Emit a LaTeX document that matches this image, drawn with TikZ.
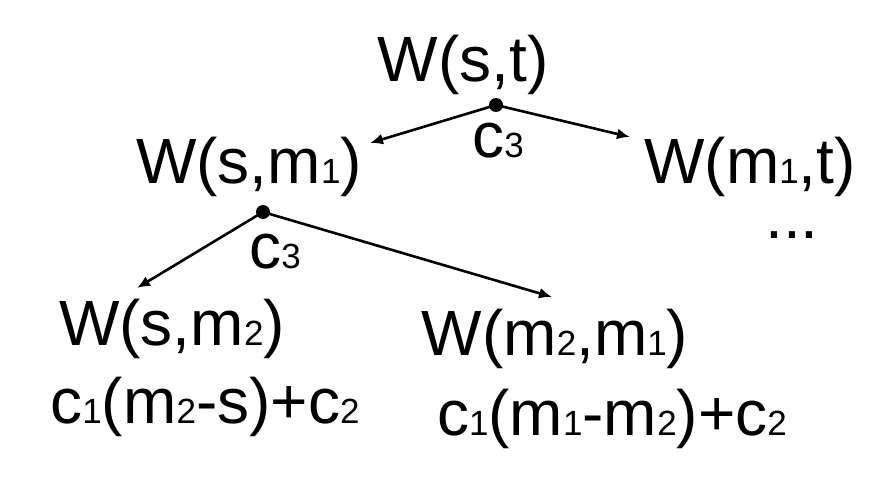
\documentclass[tikz,border=0pt]{standalone}
\usepackage{fontspec}
\setmainfont{Liberation Sans}
\usepackage{tikz}
\usetikzlibrary{arrows.meta}
\newcommand{\lo}[1]{{\fontsize{35}{35}\selectfont #1}}

\begin{document}
\begin{tikzpicture}[x=1pt,y=-1pt,
    lbl/.style={anchor=base,inner sep=0pt,font=\fontsize{64}{64}\selectfont},
    junction/.style={circle,fill=black,inner sep=0pt,minimum size=14pt},
    edge/.style={-{Latex[length=13pt,width=11pt]},line width=2.6pt}]
      		\useasboundingbox (0,0) rectangle (892,484);
      		% terms
      		\node[lbl] (wst) at (463,82) {W(s,t)};
      		\node[lbl] (wsm1) at (249,183) {W(s,m\lo{1})};
      		\node[lbl] (wm1t) at (750,183) {W(m\lo{1},t)};
      		\node[lbl] (more) at (792,238) {...};
      		\node[lbl] (wsm2) at (172,345) {W(s,m\lo{2})};
      		\node[lbl] (wm2m1) at (555,355) {W(m\lo{2},m\lo{1})};
      		\node[lbl] (cost1) at (205,423) {c\lo{1}(m\lo{2}-s)+c\lo{2}};
      		\node[lbl] (cost2) at (612,435) {c\lo{1}(m\lo{1}-m\lo{2})+c\lo{2}};
      		% splits
      		\node[junction] (ja) at (496,105) {};
      		\node[junction] (jb) at (263,212) {};
      		\node[lbl] (ca) at (498,158) {c\lo{3}};
      		\node[lbl] (cb) at (275,268) {c\lo{3}};
      		\coordinate (ea) at (370,143);
      		\coordinate (eb) at (630,137);
      		\coordinate (ec) at (137,288);
      		\coordinate (ed) at (552,297);
      		\draw[edge] (ja.center) -- (ea);
      		\draw[edge] (ja.center) -- (eb);
      		\draw[edge] (jb.center) -- (ec);
      		\draw[edge] (jb.center) -- (ed);
\end{tikzpicture}
\end{document}
